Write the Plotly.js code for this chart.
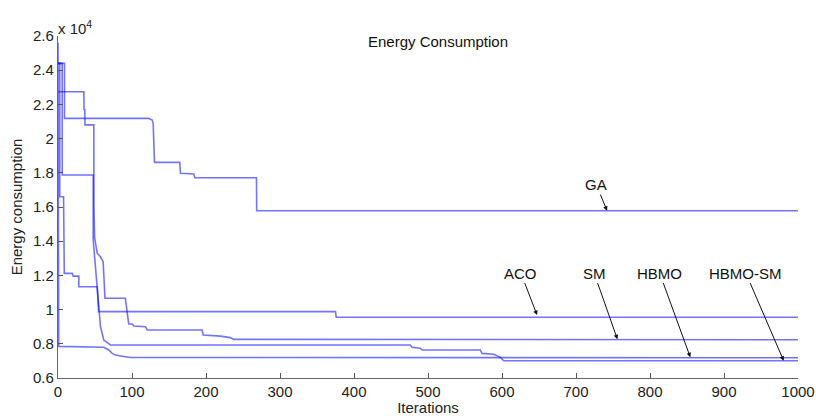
<!DOCTYPE html>
<html><head><meta charset="utf-8">
<script src="https://cdn.plot.ly/plotly-3.0.1.min.js"></script>
<style>html,body{margin:0;padding:0;background:#fff}#chart{width:816px;height:416px}</style>
</head><body><div id="chart"></div>
<script>
// Energy consumption values in units of 10^4
const gaX = [0, 8.8, 8.8, 122.7, 127.3, 128.6, 130.4, 164.5, 165.5, 183.5, 184.8, 268.2, 268.5, 1000];
const gaY = [2.44, 2.44, 2.118, 2.118, 2.109, 2.089, 1.861, 1.861, 1.797, 1.793, 1.771, 1.771, 1.578, 1.578];

const acoX = [0, 2.4, 2.4, 7.5, 8.5, 19.2, 20.5, 28.1, 28.1, 53, 55, 375, 376, 1000];
const acoY = [2.44, 2.44, 1.66, 1.66, 1.212, 1.212, 1.196, 1.196, 1.134, 1.134, 0.988, 0.988, 0.955, 0.955];

const smX = [0, 34.9, 35.2, 36.2, 36.5, 48.4, 48.6, 49.5, 53, 57, 61, 62, 63.5, 91, 95.6, 100.2, 102.4, 118.2, 120.5, 194.8, 196.2, 219.5, 233, 237.5, 1000];
const smY = [2.274, 2.274, 2.17, 2.17, 2.08, 2.08, 1.6, 1.42, 1.33, 1.31, 1.28, 1.21, 1.066, 1.066, 0.916, 0.916, 0.904, 0.900, 0.881, 0.881, 0.851, 0.845, 0.836, 0.826, 0.824];

const hbmoX = [0, 5.7, 5.7, 47.6, 47.6, 49.7, 53, 55.1, 57.4, 61.9, 70.9, 476, 478.5, 489.7, 492, 570.7, 573, 588.7, 597.8, 602.3, 1000];
const hbmoY = [2.44, 2.44, 1.787, 1.787, 1.407, 1.309, 1.115, 1.017, 0.9, 0.822, 0.793, 0.793, 0.78, 0.774, 0.764, 0.764, 0.744, 0.739, 0.721, 0.701, 0.701];

const hbmosmX = [0, 1, 61.9, 68.6, 73.2, 77.7, 84.4, 91, 98, 1000];
const hbmosmY = [2.56, 0.785, 0.78, 0.764, 0.744, 0.734, 0.729, 0.725, 0.72, 0.718];

const seriesNames = ['GA', 'ACO', 'SM', 'HBMO', 'HBMO-SM'];
const xTicks = [0, 100, 200, 300, 400, 500, 600, 700, 800, 900, 1000];
const yTicks = [0.6, 0.8, 1.0, 1.2, 1.4, 1.6, 1.8, 2.0, 2.2, 2.4, 2.6];
const yTickText = ['0.6', '0.8', '1', '1.2', '1.4', '1.6', '1.8', '2', '2.2', '2.4', '2.6'];

const font = 'Liberation Sans, Arial, sans-serif';
const lineStyle = {color: 'rgba(0,0,255,0.55)', width: 1.6};
const xs = [gaX, acoX, smX, hbmoX, hbmosmX];
const ys = [gaY, acoY, smY, hbmoY, hbmosmY];
const traces = seriesNames.map((n, i) => ({
  x: xs[i], y: ys[i], name: n, type: 'scatter', mode: 'lines',
  line: lineStyle, showlegend: false, hoverinfo: 'skip'
}));

// label annotations: [series index, arrow-head x, arrow-head y, ax, ay]
const labelSpecs = [
  [0, 742, 1.578, -10.8, -26.2],
  [1, 647.4, 0.968, -16.2, -42],
  [2, 756, 0.826, -23.3, -66.3],
  [3, 854.5, 0.721, -30.7, -84.3],
  [4, 980.6, 0.701, -37.8, -87.7]
];
const annotations = labelSpecs.map(s => ({
  text: seriesNames[s[0]], x: s[1], y: s[2], xref: 'x', yref: 'y',
  ax: s[3], ay: s[4], showarrow: true, arrowhead: 2, arrowsize: 0.9,
  arrowwidth: 1, arrowcolor: '#111', font: {family: font, size: 15, color: '#111'}
}));
annotations.push({
  text: 'x 10<sup>4</sup>', xref: 'paper', yref: 'paper', x: 0, y: 1,
  xanchor: 'left', yanchor: 'bottom', yshift: -3, xshift: -2, showarrow: false,
  font: {family: font, size: 15, color: '#222'}
});

const layout = {
  width: 816, height: 416,
  margin: {l: 57.5, r: 18.3, t: 36, b: 38, pad: 0},
  paper_bgcolor: '#fff', plot_bgcolor: '#fff',
  font: {family: font, size: 15, color: '#222'},
  title: {text: 'Energy Consumption', font: {family: font, size: 15, color: '#111'},
          xref: 'container', yref: 'container', x: 438/816, y: 1 - 42/416,
          xanchor: 'center', yanchor: 'middle'},
  xaxis: {range: [0, 1000], tickvals: xTicks, ticktext: xTicks.map(String),
          ticks: 'inside', ticklen: 5, tickcolor: '#555', showline: true,
          linecolor: '#666', linewidth: 1.2, mirror: false, showgrid: false,
          zeroline: false, tickfont: {family: font, size: 15, color: '#222'},
          title: {text: 'Iterations', standoff: 2, font: {family: font, size: 15, color: '#222'}},
          automargin: false},
  yaxis: {range: [0.6, 2.6], tickvals: yTicks, ticktext: yTickText,
          ticks: 'inside', ticklen: 5, tickcolor: '#555', showline: true,
          linecolor: '#666', linewidth: 1.2, mirror: false, showgrid: false,
          zeroline: false, tickfont: {family: font, size: 15, color: '#222'},
          title: {text: 'Energy consumption', standoff: 6, font: {family: font, size: 15, color: '#222'}},
          automargin: false},
  annotations: annotations
};
Plotly.newPlot('chart', traces, layout, {staticPlot: true, displayModeBar: false});
</script>
</body></html>
